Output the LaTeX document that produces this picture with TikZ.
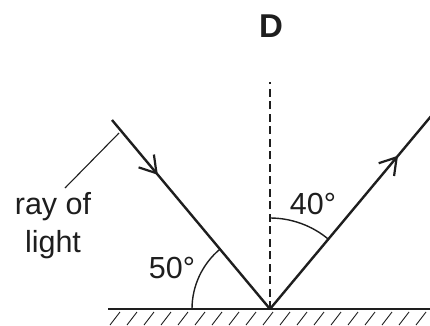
\documentclass[tikz,border=0pt]{standalone}
\usepackage{fontspec}
\setmainfont{Liberation Sans}
\usetikzlibrary{arrows.meta,decorations.markings,calc}
\definecolor{ink}{RGB}{30,30,30}
\begin{document}
\begin{tikzpicture}[x=1pt,y=1pt,
  ray/.style={draw=ink,line width=2.4pt},
  lbl/.style={text=ink,font=\fontsize{30.5}{38}\selectfont,inner sep=0pt},
  anglearc/.style={draw=ink,line width=1.4pt},
  chev/.style={postaction={decorate,decoration={markings,
     mark=at position #1 with {\arrow{Straight Barb[length=16pt,width=20pt,line width=2.2pt]}}}}}
]
\useasboundingbox (0,0) rectangle (430,325);
% key points
\coordinate (O) at (270,16);
\coordinate (A) at (112,205);
\coordinate (B) at (432,210);
\coordinate (N) at (270,243);
\coordinate (ML) at (108,16);
\coordinate (MR) at (432,16);
% hatching
\begin{scope}
  \clip (108,0) rectangle (430,14);
  \foreach \x in {110,127,...,450} {
    \draw[ink,line width=0.9pt] (\x,0) -- ++(10,13);
  }
\end{scope}
% mirror
\draw[ink,line width=2.6pt] (ML) -- (MR);
% normal
\draw[ink,line width=1.4pt,dash pattern=on 8pt off 4.5pt] (O) -- (N);
% rays
\draw[ray,chev=0.29] (A) -- (O);
\draw[ray,chev=0.79] (O) -- (B);
% angle arcs
\draw[anglearc] ($(O)+(180:78)$) arc[start angle=180,end angle=130,radius=78];
\draw[anglearc] ($(O)+(90:91)$) arc[start angle=90,end angle=50,radius=91];
% labels
\node[lbl] (a50) at (172,57) {50°};
\node[lbl] (a40) at (313,121) {40°};
\node[lbl,font=\fontsize{33}{38}\selectfont\bfseries] (D) at (271,299) {D};
\node[lbl,align=center] (rl) at (53,99) {ray of\\light};
% leader
\coordinate (L1) at (119,192);
\coordinate (L2) at (65,137);
\draw[ink,line width=1.1pt] (L1) -- (L2);
\end{tikzpicture}
\end{document}
